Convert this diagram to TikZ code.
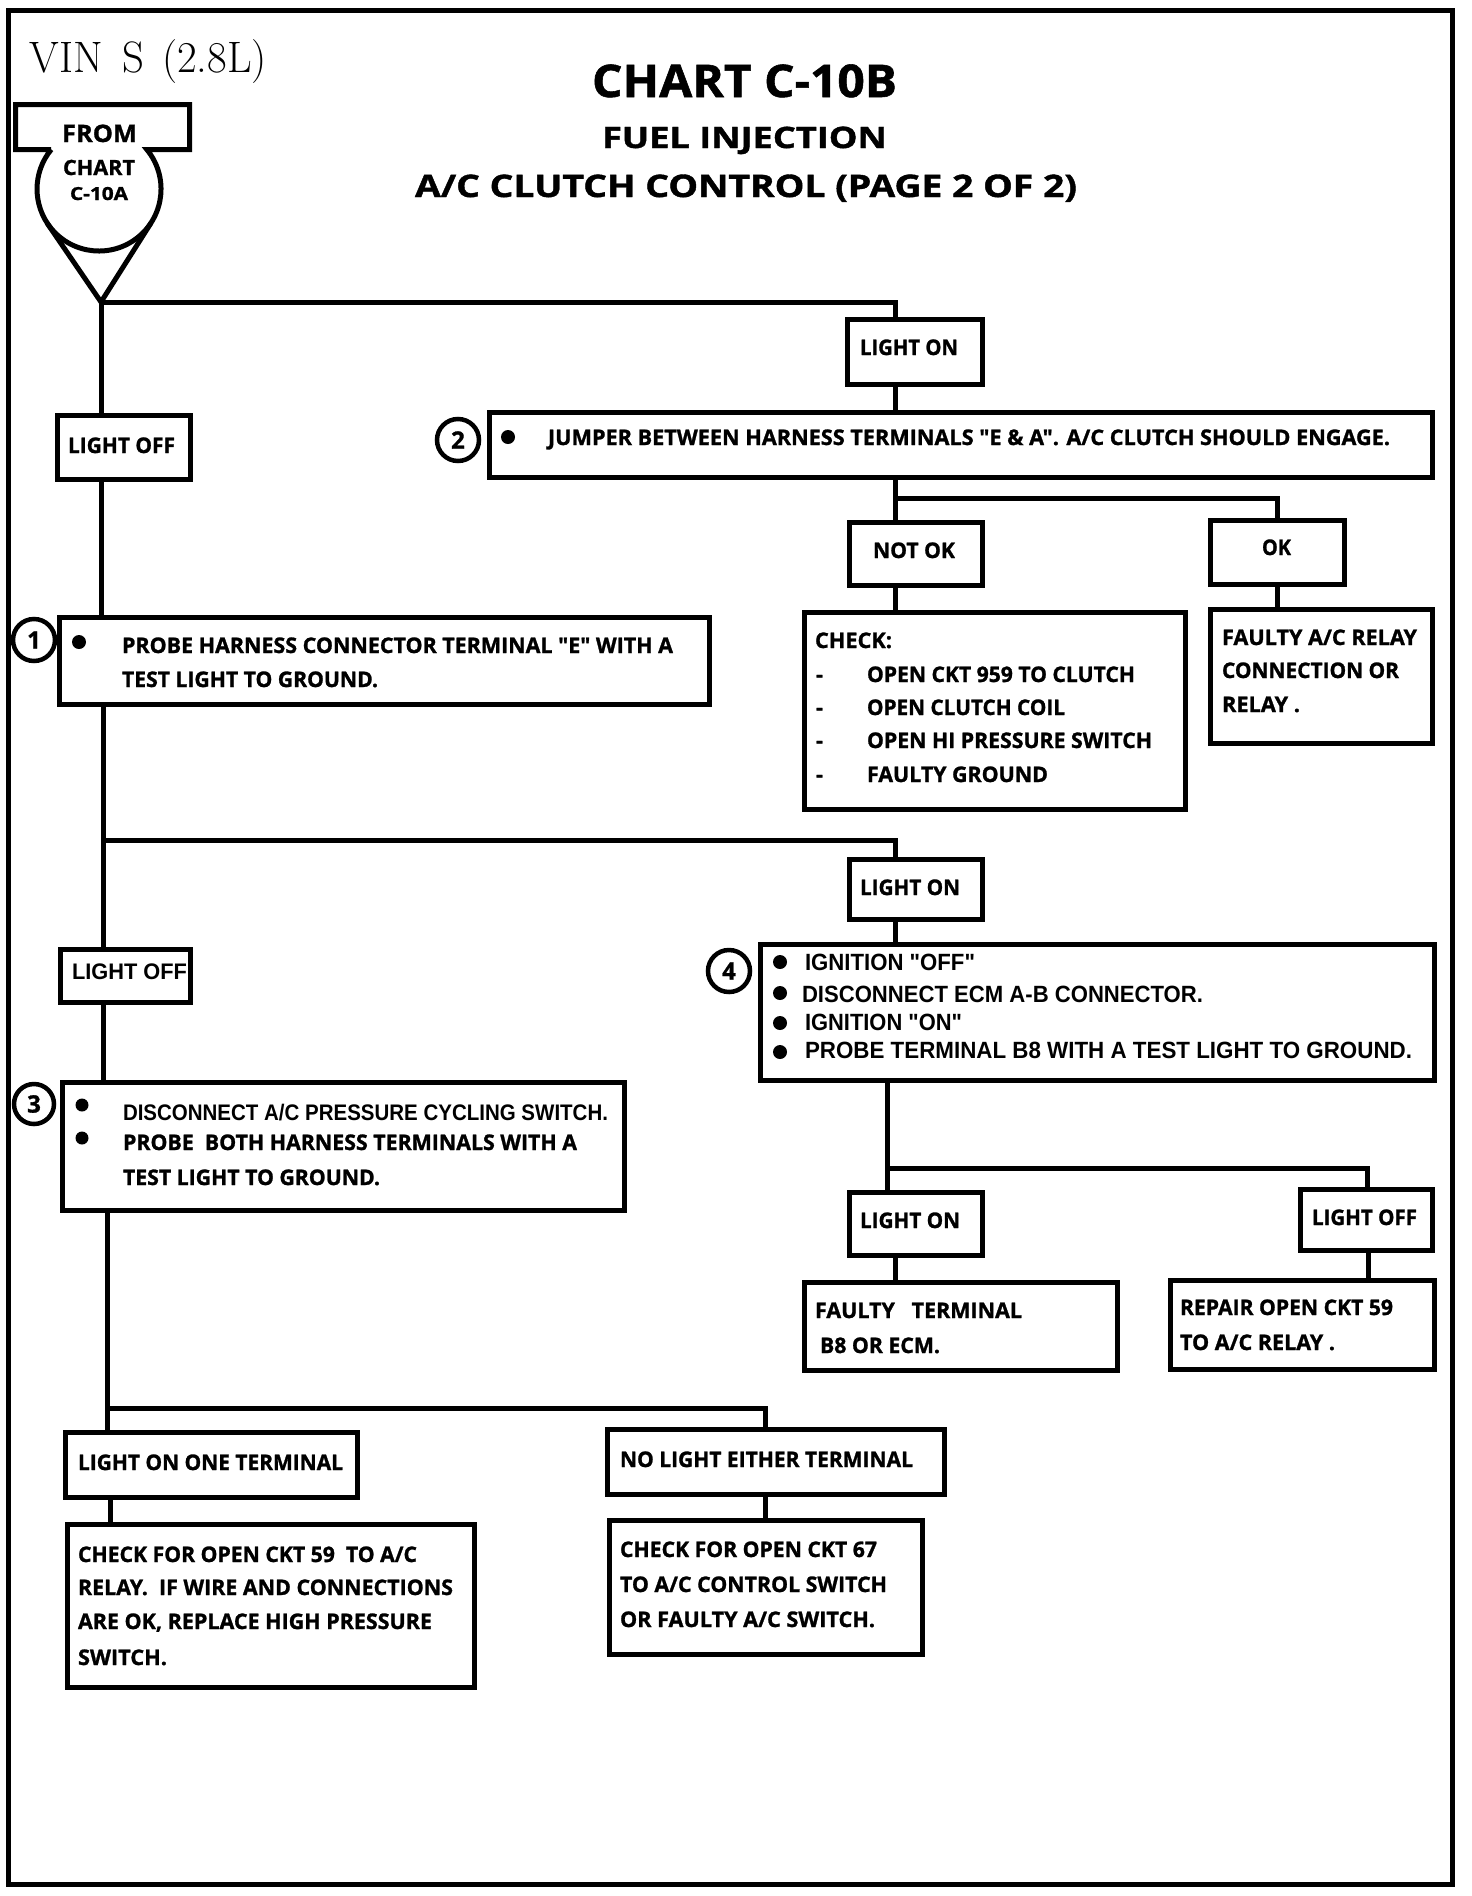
\documentclass[tikz,border=0pt]{standalone}
\usepackage{fontspec}
\usepackage{graphicx}
\usetikzlibrary{fit}
\newfontfamily\fr{Open Sans}[BoldFeatures={FakeBold=1.2}]
\newfontfamily\ar{Liberation Sans}
\newcommand\boxat[5]{\node[bxs, fit={(#2+2.5,#3+2.5) (#4-2.5,#5-2.5)}] (#1) {};}
\newcommand\tline[6]{\node[#1, anchor=base west] (#2) at (#3,#4) {\resizebox{#5pt}{\height}{#6}};}
\begin{document}
\begin{tikzpicture}[x=1pt,y=-1pt,
  bxs/.style={draw, line width=5pt, inner sep=0pt, outer sep=0pt},
  frm/.style={draw, line width=5pt, inner sep=0pt, outer sep=0pt},
  ln/.style={line width=5pt, line join=miter},
  fr/.style={inner sep=0pt, outer sep=0pt, font=\fr\bfseries\fontsize{21.5}{24}\selectfont},
  ar/.style={inner sep=0pt, outer sep=0pt, font=\ar\bfseries\fontsize{22.5}{24}\selectfont},
  arb/.style={inner sep=0pt, outer sep=0pt, font=\ar\bfseries\fontsize{23.5}{24}\selectfont},
  tA/.style={inner sep=0pt, outer sep=0pt, font=\fr\bfseries\fontsize{45}{46}\selectfont},
  tB/.style={inner sep=0pt, outer sep=0pt, font=\fr\bfseries\fontsize{29.5}{30}\selectfont},
  tC/.style={inner sep=0pt, outer sep=0pt, font=\fr\bfseries\fontsize{31}{32}\selectfont},
  fA/.style={inner sep=0pt, outer sep=0pt, font=\fr\bfseries\fontsize{24}{24}\selectfont},
  fB/.style={inner sep=0pt, outer sep=0pt, font=\fr\bfseries\fontsize{21}{21}\selectfont},
  fC/.style={inner sep=0pt, outer sep=0pt, font=\fr\bfseries\fontsize{18}{18}\selectfont},
  vin/.style={inner sep=0pt, outer sep=0pt, font=\fontsize{44}{44}\selectfont},
  numc/.style={circle, draw, line width=4.5pt, minimum size=42pt, inner sep=0pt, font=\fr\bfseries\fontsize{24}{24}\selectfont},
  dot/.style={circle, fill, minimum size=14pt, inner sep=0pt}]
\useasboundingbox (0,0) rectangle (1472,1896);
\fill[white] (0,0) rectangle (1472,1896);
\node[frm, fit={(8,10) (1452,1884)}] (frame) {};

% titles
\tline{vin}{vin}{30}{72}{237}{VIN\hspace{20pt}S\hspace{18pt}(2.8L)}
\tline{tA}{t1}{592}{97}{305}{CHART C-10B}
\tline{tB}{t2}{602}{148}{285}{FUEL INJECTION}
\tline{tC}{t3}{415}{197}{662}{A/C CLUTCH CONTROL (PAGE 2 OF 2)}

% from chart shape
\draw[ln] (51.2,149.5) -- (15.5,149.5) -- (15.5,104.5) -- (189.5,104.5) -- (189.5,149.5) -- (146.8,149.5)
  arc[start angle=-39.6, end angle=219.6, radius=62];
\coordinate (start) at (101,302);
\draw[ln] (47,223) -- (start) -- (151,223);
\tline{fA}{from1}{62}{142}{75}{FROM}
\tline{fB}{from2}{63}{175}{72}{CHART}
\tline{fC}{from3}{70}{200}{58}{C-10A}

% boxes
\boxat{lon1}{845}{317}{985}{387}
\boxat{s2}{487}{410}{1435}{480}
\boxat{lof1}{55}{413}{193}{482}
\boxat{s1}{57}{615}{712}{707}
\boxat{notok}{847}{520}{985}{588}
\boxat{ok}{1208}{518}{1347}{587}
\boxat{check}{802}{610}{1188}{812}
\boxat{faulty}{1208}{607}{1435}{746}
\boxat{lon2}{847}{857}{985}{922}
\boxat{s4}{758}{942}{1437}{1083}
\boxat{lof2}{58}{947}{193}{1005}
\boxat{s3}{60}{1080}{627}{1213}
\boxat{lon3}{847}{1190}{985}{1258}
\boxat{fterm}{802}{1280}{1120}{1373}
\boxat{lof3}{1298}{1187}{1435}{1253}
\boxat{repair}{1168}{1278}{1437}{1372}
\boxat{lone}{63}{1430}{360}{1500}
\boxat{chk59}{65}{1522}{477}{1690}
\boxat{nolight}{605}{1427}{947}{1497}
\boxat{chk67}{607}{1518}{925}{1657}

% connectors
\draw[ln] (start) -- (start |- lof1.north);
\draw[ln] (start) -| (895,0 |- lon1.north);
\draw[ln] (895,0 |- lon1.south) -- (895,0 |- s2.north);
\draw[ln] (101,0 |- lof1.south) -- (101,0 |- s1.north);
\draw[ln] (895,0 |- s2.south) -- (895,0 |- notok.north);
\coordinate (j2) at (895,498);
\draw[ln] (j2) -| (1277,0 |- ok.north);
\draw[ln] (895,0 |- notok.south) -- (895,0 |- check.north);
\draw[ln] (1277,0 |- ok.south) -- (1277,0 |- faulty.north);
\draw[ln] (103,0 |- s1.south) -- (103,0 |- lof2.north);
\coordinate (j1) at (103,840);
\draw[ln] (j1) -| (895,0 |- lon2.north);
\draw[ln] (895,0 |- lon2.south) -- (895,0 |- s4.north);
\draw[ln] (103,0 |- lof2.south) -- (103,0 |- s3.north);
\draw[ln] (887,0 |- s4.south) -- (887,0 |- lon3.north);
\coordinate (j4) at (887,1168);
\draw[ln] (j4) -| (1367,0 |- lof3.north);
\draw[ln] (895,0 |- lon3.south) -- (895,0 |- fterm.north);
\draw[ln] (1368,0 |- lof3.south) -- (1368,0 |- repair.north);
\draw[ln] (107,0 |- s3.south) -- (107,0 |- lone.north);
\coordinate (j3) at (107,1408);
\draw[ln] (j3) -| (765,0 |- nolight.north);
\draw[ln] (110,0 |- lone.south) -- (110,0 |- chk59.north);
\draw[ln] (765,0 |- nolight.south) -- (765,0 |- chk67.north);

% step numbers and bullets
\node[numc] (n1) at (34,640) {1};
\node[numc] (n2) at (458,440) {2};
\node[numc, minimum size=40pt] (n3) at (34,1104) {3};
\node[numc] (n4) at (729,971) {4};
\node[dot] (b2) at (508,437) {};
\node[dot] (b1) at (79,642) {};
\node[dot, minimum size=13pt] (b3a) at (82,1105) {};
\node[dot, minimum size=13pt] (b3b) at (82,1138) {};
\node[dot] (b4a) at (780,962) {};
\node[dot] (b4b) at (780,993) {};
\node[dot] (b4c) at (780,1023) {};
\node[dot] (b4d) at (780,1052) {};

% texts
\tline{fr}{xlon1}{860}{355}{98}{LIGHT ON}
\tline{fr}{xs2}{548}{445}{842}{JUMPER BETWEEN HARNESS TERMINALS "E \& A". A/C CLUTCH SHOULD ENGAGE.}
\tline{fr}{xlof1}{68}{453}{107}{LIGHT OFF}
\tline{fr}{xs1a}{122}{653}{551}{PROBE HARNESS CONNECTOR TERMINAL "E" WITH A}
\tline{fr}{xs1b}{122}{687}{256}{TEST LIGHT TO GROUND.}
\tline{fr}{xnotok}{873}{558}{82}{NOT OK}
\tline{fr}{xok}{1262}{555}{29}{OK}
\tline{fr}{xck}{815}{648}{77}{CHECK:}
\tline{fr}{xd1}{816}{682}{7}{-}
\tline{fr}{xd2}{816}{715}{7}{-}
\tline{fr}{xd3}{816}{748}{7}{-}
\tline{fr}{xd4}{816}{782}{7}{-}
\tline{fr}{xc1}{867}{682}{268}{OPEN CKT 959 TO CLUTCH}
\tline{fr}{xc2}{867}{715}{198}{OPEN CLUTCH COIL}
\tline{fr}{xc3}{867}{748}{285}{OPEN HI PRESSURE SWITCH}
\tline{fr}{xc4}{867}{782}{181}{FAULTY GROUND}
\tline{fr}{xf1}{1222}{645}{195}{FAULTY A/C RELAY}
\tline{fr}{xf2}{1222}{678}{177}{CONNECTION OR}
\tline{fr}{xf3}{1222}{712}{78}{RELAY .}
\tline{fr}{xlon2}{860}{895}{100}{LIGHT ON}
\tline{ar}{xlof2}{72}{979}{115}{LIGHT OFF}
\tline{arb}{x4a}{805}{970}{170}{IGNITION "OFF"}
\tline{arb}{x4b}{802}{1002}{401}{DISCONNECT ECM A-B CONNECTOR.}
\tline{arb}{x4c}{805}{1030}{157}{IGNITION "ON"}
\tline{arb}{x4d}{805}{1058}{607}{PROBE TERMINAL B8 WITH A TEST LIGHT TO GROUND.}
\tline{ar}{x3a}{123}{1120}{485}{DISCONNECT A/C PRESSURE CYCLING SWITCH.}
\tline{fr}{x3b}{123}{1150}{454}{PROBE\ \ BOTH HARNESS TERMINALS WITH A}
\tline{fr}{x3c}{123}{1185}{257}{TEST LIGHT TO GROUND.}
\tline{fr}{xlon3}{860}{1228}{100}{LIGHT ON}
\tline{fr}{xft1}{815}{1318}{207}{FAULTY\ \ \ TERMINAL}
\tline{fr}{xft2}{820}{1353}{120}{B8 OR ECM.}
\tline{fr}{xlof3}{1312}{1225}{105}{LIGHT OFF}
\tline{fr}{xr1}{1180}{1315}{213}{REPAIR OPEN CKT 59}
\tline{fr}{xr2}{1180}{1350}{155}{TO A/C RELAY .}
\tline{fr}{xlone}{78}{1470}{265}{LIGHT ON ONE TERMINAL}
\tline{fr}{x59a}{78}{1562}{339}{CHECK FOR OPEN CKT 59\ \ TO A/C}
\tline{fr}{x59b}{78}{1595}{375}{RELAY.\ \ IF WIRE AND CONNECTIONS}
\tline{fr}{x59c}{78}{1629}{354}{ARE OK, REPLACE HIGH PRESSURE}
\tline{fr}{x59d}{78}{1665}{89}{SWITCH.}
\tline{fr}{xnol}{620}{1467}{293}{NO LIGHT EITHER TERMINAL}
\tline{fr}{x67a}{620}{1557}{257}{CHECK FOR OPEN CKT 67}
\tline{fr}{x67b}{620}{1592}{267}{TO A/C CONTROL SWITCH}
\tline{fr}{x67c}{620}{1627}{255}{OR FAULTY A/C SWITCH.}
\end{tikzpicture}
\end{document}
